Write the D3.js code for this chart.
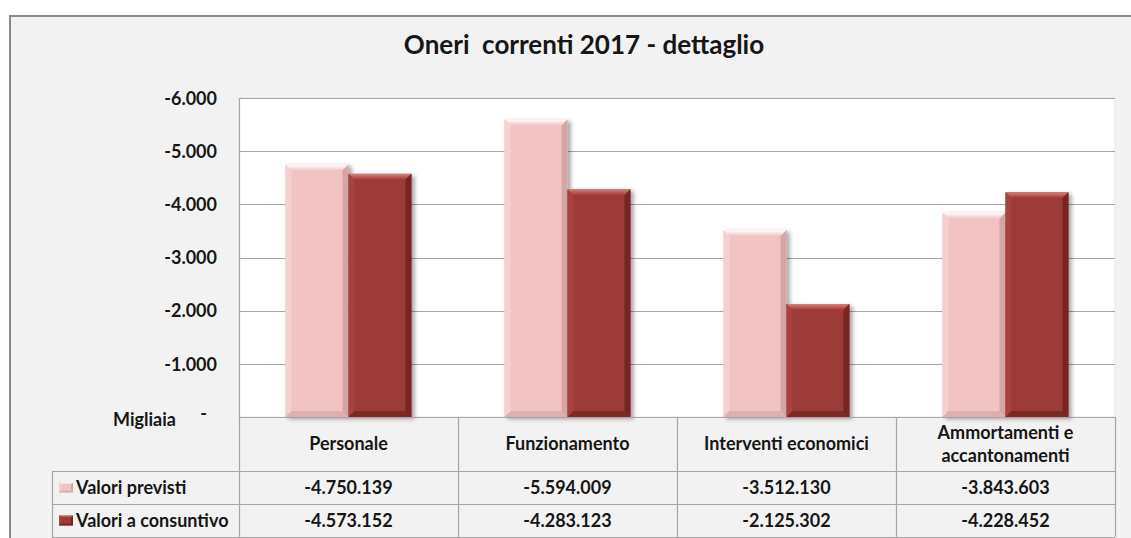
<!DOCTYPE html>
<html>
<head>
<meta charset="utf-8">
<script src="https://cdn.jsdelivr.net/npm/d3@7/dist/d3.min.js"></script>
<style>
  html, body { margin: 0; padding: 0; background: #ffffff; }
  svg { display: block; }
  text { font-family: Lato, "Open Sans", sans-serif; font-weight: 700; fill: #161616; }
</style>
</head>
<body>
<svg id="chart" width="1131" height="538"></svg>
<script>
// Data (euro)
const title = "Oneri  correnti 2017 - dettaglio";
const categories = ["Personale", "Funzionamento", "Interventi economici", "Ammortamenti e\naccantonamenti"];
const seriesNames = ["Valori previsti", "Valori a consuntivo"];
const previsti = [-4750139, -5594009, -3512130, -3843603];
const consuntivo = [-4573152, -4283123, -2125302, -4228452];
const yTicks = [0, -1000000, -2000000, -3000000, -4000000, -5000000, -6000000];
const unitLabel = "Migliaia";

const series = [previsti, consuntivo];

// Italian number formatting with a plain hyphen as minus sign
const it = d3.formatLocale({ decimal: ",", thousands: ".", grouping: [3], currency: ["€", ""], minus: "-" });
const fmtInt = it.format(",d");

const W = 1131, H = 538;
const plot = { left: 239, right: 1115, top: 98, bottom: 417 };
const rows = { header: [417, 471], r1: [471, 504], r2: [504, 537] };
const legendLeft = 52;
const fs = "18px";

const svg = d3.select("#chart");
const defs = svg.append("defs");

// Drop shadow under the bars
const shadow = defs.append("filter").attr("id", "barShadow")
  .attr("x", "-20%").attr("y", "-10%").attr("width", "150%").attr("height", "130%");
shadow.append("feDropShadow").attr("dx", 3).attr("dy", 2).attr("stdDeviation", 2.2)
  .attr("flood-color", "#000").attr("flood-opacity", 0.35);

// Palette per series: base, top highlight, left, right, bottom
const palette = [
  { base: "#f2c3c3", hi: "#ffffff", left: "#f5d0d0", right: "#d6a6a6", bottom: "#ddb0b0" },
  { base: "#9d3a38", hi: "#e27c77", left: "#a84340", right: "#742523", bottom: "#7b2927" }
];
palette.forEach((p, i) => {
  const g = defs.append("linearGradient").attr("id", "topGrad" + i)
    .attr("x1", 0).attr("y1", 0).attr("x2", 0).attr("y2", 1);
  g.append("stop").attr("offset", "0%").attr("stop-color", p.hi);
  g.append("stop").attr("offset", "100%").attr("stop-color", p.base);
});

// Chart area
svg.append("rect").attr("x", 10).attr("y", 16).attr("width", W + 20).attr("height", H + 20)
  .attr("fill", "#f2f2f2").attr("stroke", "#8a8a8a").attr("stroke-width", 2);

// Title
svg.append("text").attr("x", 584).attr("y", 54).attr("text-anchor", "middle")
  .style("font-size", "26px").style("white-space", "pre").attr("xml:space", "preserve")
  .text(title);

// Scales
const x = d3.scaleBand().domain(categories).range([plot.left, plot.right]).padding(0);
const xs = d3.scaleBand().domain(d3.range(series.length)).range([0, x.bandwidth()])
  .paddingInner(0).paddingOuter(0.74);
const y = d3.scaleLinear().domain([0, -6000000]).range([plot.bottom, plot.top]);

// Plot area
svg.append("rect").attr("x", plot.left).attr("y", plot.top)
  .attr("width", plot.right - plot.left).attr("height", plot.bottom - plot.top)
  .attr("fill", "#ffffff").attr("stroke", "#e4e4e4").attr("stroke-width", 1);

// Gridlines
svg.append("g").selectAll("line").data(yTicks.filter(d => d !== 0)).join("line")
  .attr("x1", plot.left).attr("x2", plot.right)
  .attr("y1", d => Math.round(y(d)) + 0.5).attr("y2", d => Math.round(y(d)) + 0.5)
  .attr("stroke", "#a6a6a6").attr("stroke-width", 1.2);

// Y axis line
svg.append("line").attr("x1", plot.left + 0.5).attr("x2", plot.left + 0.5)
  .attr("y1", plot.top).attr("y2", plot.bottom).attr("stroke", "#a6a6a6").attr("stroke-width", 1.2);

// Y axis labels (thousands)
const yAxis = d3.axisLeft(y).tickValues(yTicks).tickSize(0).tickPadding(0)
  .tickFormat(d => d === 0 ? "-" : fmtInt(d / 1000));
const yg = svg.append("g").attr("transform", `translate(${217},0)`).call(yAxis);
yg.select(".domain").remove();
yg.selectAll("text").style("font-size", fs).style("font-family", "Lato, 'Open Sans', sans-serif")
  .attr("fill", "#161616").attr("dy", "0.35em")
  .attr("x", d => d === 0 ? -10 : 0)
  .attr("y", d => d === 0 ? -4 : 0);

svg.append("text").attr("x", 113).attr("y", 426).style("font-size", fs).text(unitLabel);

// Bevelled bar drawing
function bevelBar(g, x0, y0, x1, y1, p, i, b) {
  const bb = Math.min(b, (y1 - y0) / 2, (x1 - x0) / 2);
  g.append("rect").attr("x", x0).attr("y", y0).attr("width", x1 - x0).attr("height", y1 - y0)
    .attr("fill", p.base);
  g.append("polygon").attr("fill", `url(#topGrad${i})`)
    .attr("points", [[x0, y0], [x1, y0], [x1 - bb, y0 + bb], [x0 + bb, y0 + bb]].join(" "));
  g.append("polygon").attr("fill", p.left)
    .attr("points", [[x0, y0], [x0 + bb, y0 + bb], [x0 + bb, y1 - bb], [x0, y1]].join(" "));
  g.append("polygon").attr("fill", p.right)
    .attr("points", [[x1, y0], [x1, y1], [x1 - bb, y1 - bb], [x1 - bb, y0 + bb]].join(" "));
  g.append("polygon").attr("fill", p.bottom)
    .attr("points", [[x0, y1], [x0 + bb, y1 - bb], [x1 - bb, y1 - bb], [x1, y1]].join(" "));
}

// Bars
const barsG = svg.append("g");
series.forEach((vals, si) => {
  vals.forEach((v, ci) => {
    const g = barsG.append("g").attr("filter", "url(#barShadow)");
    const x0 = x(categories[ci]) + xs(si);
    const x1 = x0 + xs.bandwidth();
    const y0 = y(v), y1 = y(0);
    bevelBar(g, x0, y0, x1, y1, palette[si], si, 6);
  });
});

// Data table
const tableG = svg.append("g");
const gridColor = "#a6a6a6";
function hline(x1, x2, yy) {
  tableG.append("line").attr("x1", x1).attr("x2", x2).attr("y1", yy + 0.5).attr("y2", yy + 0.5)
    .attr("stroke", gridColor).attr("stroke-width", 1.2);
}
function vline(xx, y1, y2) {
  tableG.append("line").attr("x1", xx + 0.5).attr("x2", xx + 0.5).attr("y1", y1).attr("y2", y2)
    .attr("stroke", gridColor).attr("stroke-width", 1.2);
}
hline(plot.left, plot.right, rows.header[0]);
hline(legendLeft, plot.right, rows.r1[0]);
hline(legendLeft, plot.right, rows.r2[0]);
hline(legendLeft, plot.right, rows.r2[1]);
vline(legendLeft, rows.r1[0], rows.r2[1]);
categories.forEach(c => vline(x(c), rows.header[0], rows.r2[1]));
vline(plot.right, rows.header[0], rows.r2[1]);

// Category headers
categories.forEach(c => {
  const lines = c.split("\n");
  const cx = x(c) + x.bandwidth() / 2;
  const cy = (rows.header[0] + rows.header[1]) / 2;
  const lh = 23;
  lines.forEach((ln, k) => {
    tableG.append("text").attr("x", cx)
      .attr("y", cy + (k - (lines.length - 1) / 2) * lh)
      .attr("dy", "0.35em").attr("text-anchor", "middle")
      .style("font-size", fs).text(ln);
  });
});

// Value rows with legend keys
[rows.r1, rows.r2].forEach((r, si) => {
  const cy = (r[0] + r[1]) / 2;
  const kg = tableG.append("g");
  bevelBar(kg, 59, cy - 5, 73, cy + 5, palette[si], si, 2);
  tableG.append("text").attr("x", 76).attr("y", cy).attr("dy", "0.35em")
    .style("font-size", fs).text(seriesNames[si]);
  series[si].forEach((v, ci) => {
    tableG.append("text").attr("x", x(categories[ci]) + x.bandwidth() / 2).attr("y", cy)
      .attr("dy", "0.35em").attr("text-anchor", "middle")
      .style("font-size", fs).text(fmtInt(v));
  });
});
</script>
</body>
</html>
